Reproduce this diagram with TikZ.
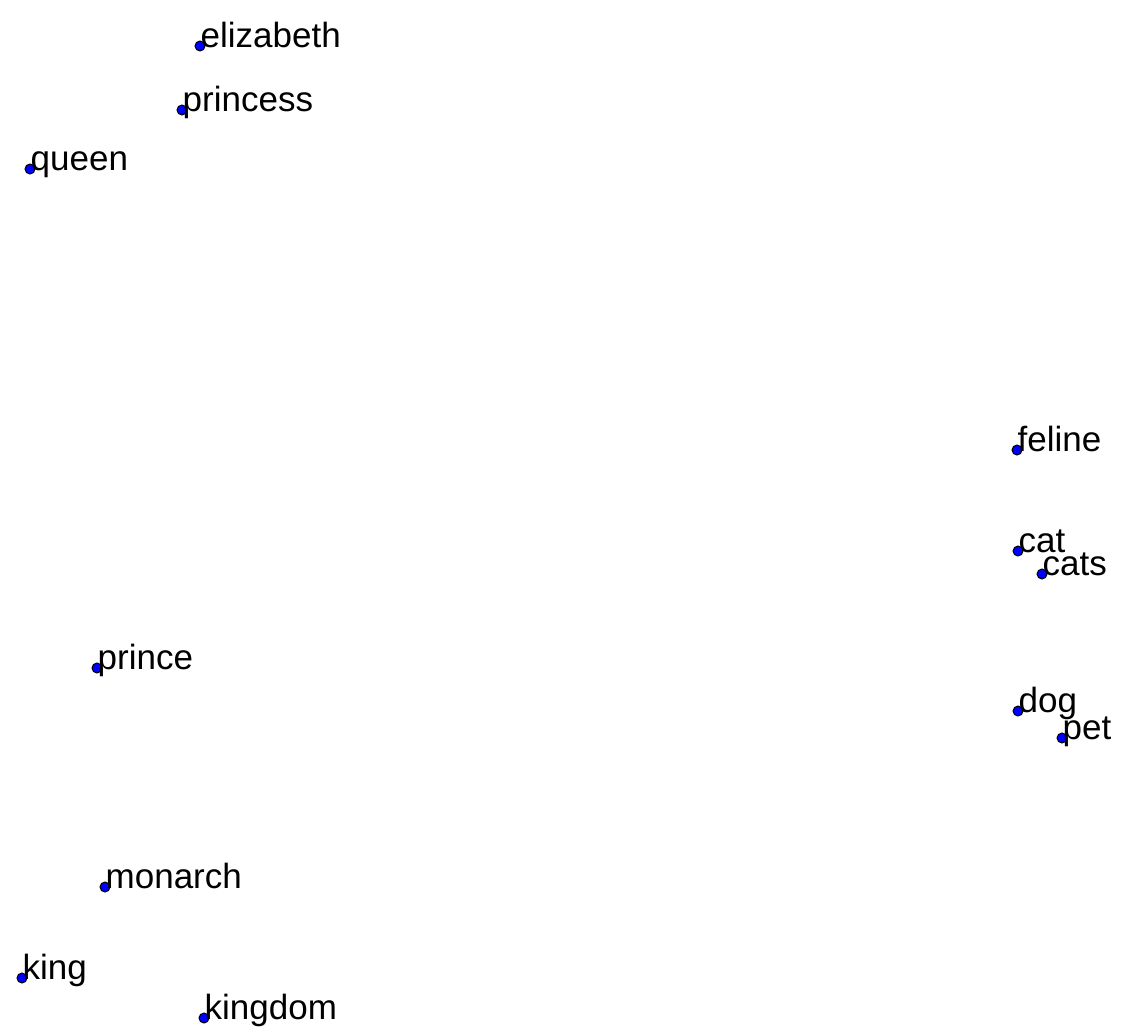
\documentclass[tikz,border=0pt]{standalone}
\usepackage{fontspec}
\setmainfont{Liberation Sans}
\begin{document}
\begin{tikzpicture}[x=1pt,y=-1pt,
  pt/.style={circle,draw=black,fill=blue,line width=1pt,minimum size=10pt,inner sep=0pt},
  word/.style={anchor=base west,inner sep=0pt,font=\fontsize{35}{40}\selectfont}]
\useasboundingbox (0,0) rectangle (1128,1036);
\foreach \name/\x/\y in {elizabeth/200/46, princess/182/110, queen/30/169,
  feline/1017/450, cat/1018/551, cats/1042/574, prince/97/668,
  dog/1018/711, pet/1062/738, monarch/105/887, king/22/978, kingdom/204/1018}{
  \node[pt] (p-\name) at (\x,\y) {};
  \node[word] (\name) at ([xshift=0.5pt,yshift=-1pt]p-\name.center) {\name};
}
\end{tikzpicture}
\end{document}
